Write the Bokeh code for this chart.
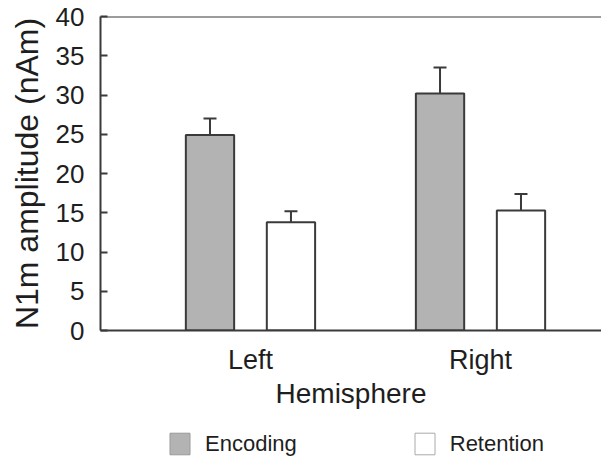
from bokeh.plotting import figure
from bokeh.layouts import column
from bokeh.models import (Range1d, FixedTicker, Whisker, TeeHead, ColumnDataSource,
                          Span, Legend, LegendItem)
from bokeh.embed import file_html
from bokeh.resources import INLINE

# N1m amplitude per hemisphere and task phase (mean and SEM, nAm)
hemispheres = ["Left", "Right"]
group_pos = [1, 2]
encoding = [24.9, 30.2]
encoding_err = [2.1, 3.3]
retention = [13.8, 15.3]
retention_err = [1.4, 2.1]
y_ticks = [0, 5, 10, 15, 20, 25, 30, 35, 40]

FONT = "Liberation Sans"
EDGE = "#3a3a3a"
TEXT = "#1e1e1e"
ENC_FILL = "#b3b3b3"
RET_FILL = "#ffffff"
OFFSET = 0.176
BAR_W = 0.21

p = figure(width=601, height=420, output_backend="svg", toolbar_location=None,
           x_range=Range1d(0.348, 2.526), y_range=Range1d(0, 40),
           min_border_left=100, min_border_right=0, min_border_top=16,
           min_border_bottom=90)
p.outline_line_color = None
p.grid.grid_line_color = None

enc_src = ColumnDataSource(dict(
    x=[g - OFFSET for g in group_pos], top=encoding,
    upper=[v + e for v, e in zip(encoding, encoding_err)]))
ret_src = ColumnDataSource(dict(
    x=[g + OFFSET for g in group_pos], top=retention,
    upper=[v + e for v, e in zip(retention, retention_err)]))

for src in (enc_src, ret_src):
    p.add_layout(Whisker(source=src, base="x", lower="top", upper="upper",
                         line_color=EDGE, line_width=2,
                         upper_head=TeeHead(size=13, line_color=EDGE, line_width=2),
                         lower_head=None, level="underlay"))

p.vbar(x="x", top="top", width=BAR_W, source=enc_src, fill_color=ENC_FILL,
       line_color=EDGE, line_width=2)
p.vbar(x="x", top="top", width=BAR_W, source=ret_src, fill_color=RET_FILL,
       line_color=EDGE, line_width=2)

# top border line of the plotting frame
p.add_layout(Span(location=40, dimension="width", line_color=EDGE, line_width=2))

# y axis
yax = p.yaxis[0]
yax.ticker = FixedTicker(ticks=y_ticks)
yax.axis_label = "N1m amplitude (nAm)"
yax.axis_label_text_font = FONT
yax.axis_label_text_font_size = "32px"
yax.axis_label_text_font_style = "normal"
yax.axis_label_text_color = TEXT
yax.axis_label_standoff = 8
yax.major_label_text_font = FONT
yax.major_label_text_font_size = "26px"
yax.major_label_text_color = TEXT
yax.major_label_standoff = 16
yax.major_tick_in = 7
yax.major_tick_out = 0
yax.minor_tick_line_color = None
yax.axis_line_color = EDGE
yax.axis_line_width = 2
yax.major_tick_line_color = EDGE
yax.major_tick_line_width = 2

# x axis
xax = p.xaxis[0]
xax.ticker = FixedTicker(ticks=group_pos)
xax.major_label_overrides = {g: h for g, h in zip(group_pos, hemispheres)}
xax.axis_label = "Hemisphere"
xax.axis_label_text_font = FONT
xax.axis_label_text_font_size = "28px"
xax.axis_label_text_font_style = "normal"
xax.axis_label_text_color = TEXT
xax.axis_label_standoff = 0
xax.major_label_text_font = FONT
xax.major_label_text_font_size = "27px"
xax.major_label_text_color = TEXT
xax.major_label_standoff = 14
xax.major_tick_in = 0
xax.major_tick_out = 0
xax.minor_tick_line_color = None
xax.major_tick_line_color = None
xax.axis_line_color = EDGE
xax.axis_line_width = 2

# legend strip below the chart; its view range sits away from the bar data,
# so only the legend swatches of these renderers are drawn
lg = figure(width=601, height=39, output_backend="svg", toolbar_location=None,
            x_axis_location=None, y_axis_location=None,
            x_range=Range1d(-3, -2), y_range=Range1d(-3, -2),
            min_border_left=0, min_border_right=0, min_border_top=0,
            min_border_bottom=0)
lg.grid.grid_line_color = None
lg.outline_line_color = None
enc_key = lg.vbar(x="x", top="top", width=BAR_W, source=enc_src,
                  fill_color=ENC_FILL, line_color="#9a9a9a", line_width=1)
ret_key = lg.vbar(x="x", top="top", width=BAR_W, source=ret_src,
                  fill_color=RET_FILL, line_color="#aaaaaa", line_width=1)
legend = Legend(items=[LegendItem(label="Encoding", renderers=[enc_key], index=0),
                       LegendItem(label="Retention", renderers=[ret_key], index=0)],
                orientation="horizontal", location=(67, 2),
                glyph_width=25, glyph_height=27, label_standoff=13, spacing=115,
                label_text_font=FONT, label_text_font_size="22px",
                label_text_color=TEXT, border_line_color=None,
                background_fill_alpha=0, padding=0, margin=0)
lg.add_layout(legend)

open("out.html", "w").write(file_html(column(p, lg, spacing=0), INLINE))
